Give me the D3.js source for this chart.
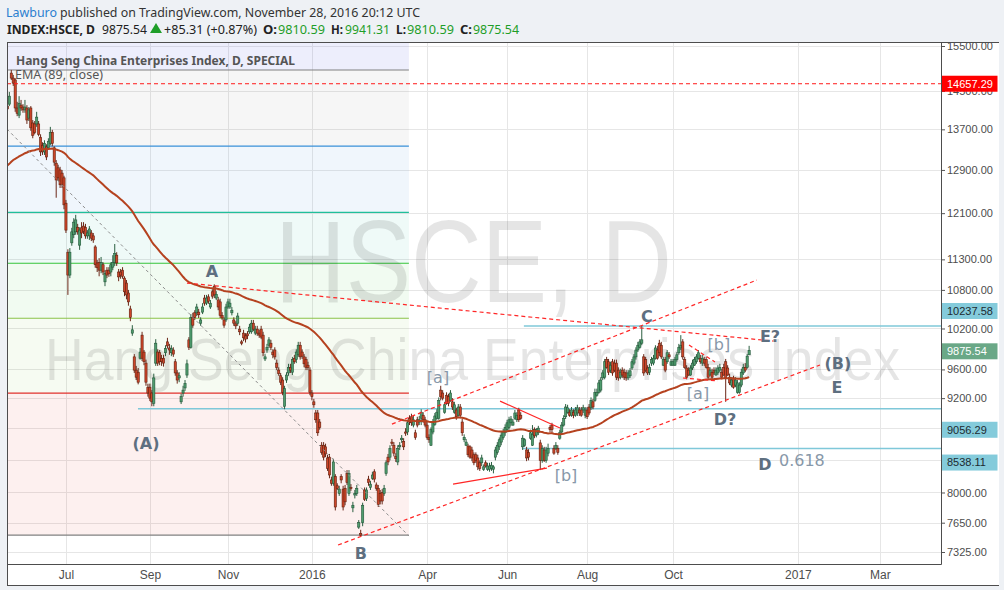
<!DOCTYPE html>
<html><head><meta charset="utf-8">
<script src="https://cdn.jsdelivr.net/npm/d3@7/dist/d3.min.js"></script>
<style>
html,body{margin:0;padding:0;background:#eef1f5;overflow:hidden}
svg{display:block}
</style></head><body>
<svg id="chart" width="1004" height="590"></svg>
<script>
// ---------------- DATA ----------------
const opens=[14180,14220,14890,14780,14740,14140,13990,14200,14160,14100,
14140,13930,14140,13830,13810,13810,13810,13540,13380,13250,
13350,13330,13420,13640,13330,13030,12940,12900,12840,12750,
12280,11420,11040,11580,11720,11770,11850,11540,11840,11870,
11850,11700,11700,11750,11700,11510,11240,11250,11120,11210,
10930,11120,11120,11090,11170,11250,11370,11090,11090,11120,
10990,10910,10750,10500,10130,9780,9590,9560,9760,10100,
9850,9690,9350,9350,9270,9130,9690,9850,9840,9760,
9760,9840,10000,9910,9840,9880,9710,9550,9480,9150,
9270,9340,9520,10030,9920,10370,10440,10440,10450,10280,
10450,10670,10590,10690,10530,10770,10860,10670,10640,10610,
10400,10330,10330,10530,10530,10440,10330,10270,10280,10190,
10000,10130,10090,10120,10150,10150,10280,10130,10190,10130,
10190,10100,9750,9880,9950,9980,9850,9880,9690,9590,
9510,9450,9090,9450,9550,9630,9560,9760,9740,9810,
9950,9850,9780,9740,9660,9590,9270,9150,9000,9000,
8880,8580,8580,8560,8420,8430,8150,8110,8190,8080,
7990,8190,8040,8050,8230,7990,8060,7820,7970,7990,
7600,7530,7650,8030,7930,8160,8060,8170,8250,8090,
8050,7990,8000,7990,8230,8430,8430,8620,8580,8440,
8370,8560,8650,8630,8750,8750,8930,8950,8840,8740,
8910,8880,8930,8970,8910,8840,8680,8580,8750,8850,
8930,8930,9310,9270,9010,9240,9220,9170,9150,9010,
9040,8970,9080,8880,8650,8580,8570,8560,8520,8460,
8460,8420,8360,8360,8280,8360,8280,8280,8290,8280,
8430,8490,8560,8620,8680,8740,8780,8810,8870,8840,
8930,8910,9040,8970,8560,8580,8520,8490,8670,8580,
8780,8710,8740,8610,8390,8520,8390,8480,8810,8840,
8540,8540,8540,8670,8750,8840,8950,9010,9010,8970,
9010,8970,9000,9040,9040,9040,8970,9040,9080,
9070,9150,9170,9240,9280,9310,9480,9490,9740,9710,
9590,9710,9690,9690,9590,9490,9590,9560,9550,
9480,9510,9620,9690,9780,9880,9920,9980,9780,
9740,9620,9560,9690,9690,9760,9880,9980,9950,9660,
9740,9710,9810,9660,9660,9660,9740,9840,9910,10000,
9740,9620,9590,9520,9620,9660,9710,9760,9760,9690,
9740,9740,9630,9520,9560,9590,9520,9550,9590,9560,
9630,9710,9620,9490,9380,9480,9380,9280,9280,9380,
9550,9630,9630,9810.59];
const highs=[14220,14480,14960,14850,14780,14270,14390,14310,14220,14310,
14200,14160,14180,13890,13870,14060,13870,13600,13440,13480,
13400,13520,13750,13690,13360,13090,13000,12960,12900,12790,
12340,11470,11490,11840,12010,12070,11910,11850,11940,11940,
11910,11800,11870,11800,11750,11540,11290,11320,11340,11250,
11120,11170,11170,11250,11370,11560,11420,11140,11140,11170,
11020,10960,10800,10550,10250,9820,9650,9620,9910,10150,
9880,9740,9400,9400,9310,9540,10040,9890,9880,9810,
9810,9950,10060,9970,9950,9920,9750,9590,9560,9260,
9370,9450,9740,10070,10420,10440,10480,10580,10500,10370,
10590,10720,10720,10730,10640,10810,10890,10780,10690,10660,
10450,10370,10580,10660,10660,10530,10370,10310,10440,10240,
10030,10180,10130,10160,10270,10330,10330,10240,10240,10180,
10240,10150,9820,9970,10070,10030,9890,9920,9740,9630,
9550,9490,9370,9560,9680,9680,9780,9810,9890,10000,
10000,9890,9820,9780,9710,9630,9310,9190,9040,9040,
8920,8620,8620,8600,8460,8470,8190,8410,8220,8110,
8080,8220,8080,8090,8270,8270,8100,7890,8030,8090,
7680,7570,7880,8060,8060,8200,8140,8250,8280,8120,
8090,8030,8040,8090,8390,8470,8580,8660,8620,8480,
8580,8620,8710,8670,8800,8910,8970,8990,8960,8780,
8950,8960,9050,9010,8950,8880,8720,8810,8920,9000,
9050,9210,9370,9310,9150,9280,9260,9310,9200,9150,
9070,9120,9120,8920,8720,8660,8600,8580,8560,8490,
8490,8460,8390,8460,8340,8390,8360,8360,8370,8330,
8560,8620,8680,8750,8790,8850,8910,8950,8960,8920,
9040,9010,9070,9010,8710,8670,8560,8530,8780,8840,
8810,8800,8830,8650,8580,8560,8560,8600,8840,8870,
8580,8620,8580,8780,8880,8970,9120,9110,9050,9080,
9050,9080,9110,9080,9080,9110,9080,9080,9120,
9210,9190,9330,9330,9450,9490,9590,9750,9780,9750,
9710,9750,9740,9740,9630,9610,9630,9610,9590,
9590,9620,9750,9820,9920,10000,10040,10237.58,9820,
9780,9660,9680,9780,9810,9950,9940,10030,10000,9780,
9780,9880,9850,9750,9750,9780,9850,9970,10100,10040,
9780,9660,9630,9660,9740,9780,9820,9880,9810,9810,
9780,9780,9680,9630,9610,9630,9630,9660,9680,9610,
9680,9750,9660,9540,9490,9510,9490,9450,9420,9610,
9680,9690,9820,9941.31];
const lows=[14080,14180,14740,14610,14060,13970,13930,14080,14040,14040,
13810,13870,13670,13520,13600,13750,13560,13170,13190,13190,
13090,13290,13380,13360,12980,12380,12690,12560,12560,12170,
11750,10720,10990,11530,11660,11720,11720,11460,11660,11730,
11650,11650,11630,11610,11580,11160,11090,11020,11070,11040,
10860,10990,11010,11020,11120,11190,11190,10940,10980,10980,
10700,10650,10550,10310,10090,9550,9450,9390,9740,9720,
9660,9370,9220,9160,9090,9090,9650,9650,9660,9650,
9640,9790,9900,9810,9790,9780,9510,9400,9420,9120,
9220,9300,9480,9880,9900,10210,10330,10390,10360,10240,
10420,10550,10560,10580,10500,10660,10670,10640,10480,10360,
10330,10210,10300,10500,10500,10400,10240,10190,10240,10100,
9950,10010,9990,10040,10120,10120,10160,10100,10090,10060,
10040,9790,9720,9840,9910,9880,9760,9740,9590,9510,
9380,9240,9050,9410,9510,9550,9520,9680,9690,9780,
9740,9750,9630,9590,9590,9240,9170,9070,8870,8700,
8780,8460,8390,8430,8260,8170,8080,8080,7790,8030,
7960,8110,7790,7850,8090,7960,8020,7770,7930,7960,
7580,7498,7610,7900,7900,8080,8030,8150,8120,8020,
7830,7860,7860,7960,8200,8330,8390,8570,8440,8370,
8330,8520,8610,8520,8700,8710,8840,8830,8810,8650,
8810,8840,8840,8870,8810,8650,8610,8570,8720,8830,
8910,8910,9170,9170,8990,9110,9090,9150,9040,8990,
8910,8950,8930,8700,8620,8570,8430,8410,8380,8330,
8360,8270,8260,8320,8260,8300,8260,8250,8260,8230,
8390,8460,8520,8580,8650,8700,8750,8780,8830,8830,
8910,8880,8880,8910,8520,8560,8380,8390,8650,8570,
8670,8680,8710,8270,8360,8370,8360,8440,8750,8740,
8460,8520,8460,8650,8720,8820,8920,8990,8950,8950,
8930,8950,8960,8960,8950,9000,8930,8920,8970,
9040,9050,9150,9220,9260,9280,9450,9460,9610,9520,
9550,9510,9560,9450,9440,9460,9480,9450,9440,
9450,9480,9590,9660,9740,9850,9900,9950,9510,
9560,9520,9520,9650,9660,9740,9740,9790,9750,9650,
9560,9680,9750,9650,9650,9650,9710,9810,9880,9740,
9610,9460,9510,9510,9590,9650,9680,9740,9680,9650,
9650,9610,9460,9510,9460,9520,9510,9520,9560,9460,
9510,9150,9510,9380,9350,9330,9350,9260,9260,9350,
9520,9560,9610,9810.59];
const closes=[14120,14390,14780,14670,14140,14030,14240,14140,14100,14160,
13890,14100,13730,13580,13640,13950,13600,13250,13250,13420,
13150,13460,13640,13420,13050,12710,12750,12620,12620,12250,
11800,11040,11420,11770,11940,11980,11770,11800,11750,11780,
11700,11750,11820,11660,11630,11210,11160,11120,11250,11090,
11070,11040,11060,11210,11250,11400,11240,11010,11040,11020,
10770,10720,10610,10370,10180,9590,9490,9420,9850,9760,
9710,9420,9270,9200,9150,9480,9980,9690,9710,9710,
9690,9900,9940,9880,9900,9820,9550,9450,9510,9220,
9310,9400,9680,9920,10370,10250,10370,10530,10410,10330,
10530,10590,10670,10620,10590,10700,10720,10730,10530,10400,
10360,10250,10530,10610,10590,10480,10280,10240,10390,10150,
9980,10060,10040,10090,10220,10280,10190,10190,10130,10100,
10070,9840,9780,9920,10030,9920,9810,9780,9630,9540,
9420,9280,9330,9520,9630,9590,9740,9710,9850,9950,
9780,9790,9680,9630,9630,9280,9220,9110,8910,8740,
8810,8490,8430,8470,8290,8210,8110,8370,7830,8050,
8040,8150,7830,7890,8120,8230,8050,7850,7990,8050,
7650,7510,7850,7920,8030,8120,8100,8210,8160,8050,
7860,7900,7900,8050,8360,8370,8540,8610,8480,8410,
8540,8580,8670,8560,8740,8870,8880,8870,8910,8680,
8840,8910,9010,8910,8840,8680,8650,8780,8880,8960,
9010,9170,9220,9200,9110,9130,9130,9270,9080,9110,
8950,9080,8970,8740,8680,8620,8460,8430,8420,8360,
8390,8310,8290,8420,8310,8320,8320,8320,8330,8310,
8520,8580,8650,8710,8750,8810,8870,8910,8920,8880,
9000,8970,8910,8930,8670,8650,8420,8430,8740,8720,
8700,8780,8800,8390,8540,8390,8520,8540,8780,8780,
8480,8580,8490,8740,8840,8930,9080,9070,8970,9040,
8970,9040,9070,9000,8970,9070,9040,8950,9000,
9170,9080,9280,9280,9410,9450,9550,9710,9630,9560,
9660,9550,9590,9490,9480,9560,9520,9490,9480,
9550,9580,9710,9780,9880,9950,10000,10030,9550,
9590,9550,9630,9740,9760,9910,9760,9840,9780,9740,
9590,9840,9780,9710,9710,9740,9810,9920,9950,9780,
9630,9490,9520,9620,9690,9740,9780,9840,9710,9760,
9690,9630,9490,9590,9490,9550,9590,9620,9630,9490,
9520,9480,9520,9410,9450,9350,9450,9410,9380,9560,
9630,9590,9790.23,9875.54];

const emaSeed=12960, emaLength=89;
const lastBarDate="2016-11-28";
const holidays=["2015-05-01","2015-05-25","2015-07-01","2015-09-03","2015-09-28","2015-10-01","2015-10-21","2015-12-25",
"2016-01-01","2016-02-08","2016-02-09","2016-02-10","2016-03-25","2016-03-28","2016-04-04","2016-05-02","2016-06-09",
"2016-07-01","2016-09-16","2016-10-10"];

const priceTicks=[15500,14500,13700,12900,12100,11300,10800,10200,9600,9200,8800,8400,8000,7650,7325];
const tickDates=["2015-07-01","2015-09-01","2015-11-01","2016-01-01","2016-04-01","2016-06-01","2016-08-01","2016-10-01","2017-01-01","2017-03-01"];
const tickLabels=["Jul","Sep","Nov","2016","Apr","Jun","Aug","Oct","2017","Mar"];

const fibLow=7511, fibHigh=14959, fibEndBar=205.7;
const fibLevels=[0,0.236,0.382,0.5,0.618,0.786,1,1.618];
const fibColors=["#808080","#e0302c","#8bc34a","#35c43a","#20bf9a","#3a90d8","#808080","#5a66e0"];
const fibAlpha=[0,0.075,0.075,0.07,0.07,0.08,0.07,0.11];

const hLinePrice=14657.29;
const rays=[{price:10237.58,fromBar:264.6},{price:9056.29,fromBar:66.9},{price:8538.11,fromBar:263.6}];
const trendLines=[
 {b1:-0.2,p1:13705,b2:205.7,p2:7500,kind:"grey"},
 {b1:92.0,p1:10910,b2:392.2,p2:10012,kind:"dash"},
 {b1:197.0,p1:8853,b2:384.0,p2:10959,kind:"dash"},
 {b1:169.4,p1:7401,b2:416.3,p2:9663,kind:"dash"},
 {b1:228.3,p1:8100,b2:276.4,p2:8295,kind:"solid"},
 {b1:252.4,p1:9160,b2:283.1,p2:8801,kind:"solid"},
 {b1:349.2,p1:9953,b2:362.5,p2:9706,kind:"dash"},
 {b1:346.1,p1:9479,b2:364.0,p2:9437,kind:"dash"}
];
const waveLabels=[
 {t:"A",bar:104.8,price:11007,bold:true},
 {t:"(A)",bar:71.0,price:8532,bold:true},
 {t:"B",bar:181.1,price:7249,bold:true},
 {t:"C",bar:327.6,price:10297,bold:true},
 {t:"[a]",bar:220.6,price:9409,bold:false},
 {t:"[b]",bar:286.2,price:8137,bold:false},
 {t:"[b]",bar:364.5,price:9880,bold:false},
 {t:"[a]",bar:353.8,price:9188,bold:false},
 {t:"D?",bar:367.6,price:8840,bold:true},
 {t:"E?",bar:390.7,price:9997,bold:true},
 {t:"(B)",bar:425.5,price:9606,bold:true},
 {t:"E",bar:425.0,price:9271,bold:true},
 {t:"D",bar:388.1,price:8270,bold:true}
];
const fibTag={t:"0.618",bar:395.3,price:8320};
const axisTags=[
 {price:14657.29,dy:0,bg:"#ff0000",fg:"#ffffff"},
 {price:10237.58,dy:-15,bg:"#84cbdb",fg:"#1d2a30"},
 {price:9875.54,dy:1,bg:"#6aa887",fg:"#ffffff"},
 {price:9056.29,dy:21,bg:"#84cbdb",fg:"#1d2a30"},
 {price:8538.11,dy:14,bg:"#84cbdb",fg:"#1d2a30"}
];

// ---------------- LAYOUT ----------------
const P={l:7,t:42.5,r:941,b:564};
const svg=d3.select("#chart");
const x=d3.scaleLinear().domain([-0.2,478.3]).range([P.l,P.r]);
const y=d3.scaleLog().domain([7325,15500]).range([552,46]);

// dates (trading days backwards from last bar, weekdays forward)
const hs=new Set(holidays);
const ymd=d=>d.toISOString().slice(0,10);
const N=closes.length;
const barDates=[];
let dt=new Date(lastBarDate+"T00:00:00Z");
while(barDates.length<N){const wd=dt.getUTCDay(); if(wd!==0&&wd!==6&&!hs.has(ymd(dt))) barDates.unshift(new Date(dt)); dt=new Date(dt.getTime()-864e5);}
const futureDates=[];
dt=new Date(new Date(lastBarDate+"T00:00:00Z").getTime()+864e5);
while(futureDates.length<140){const wd=dt.getUTCDay(); if(wd!==0&&wd!==6) futureDates.push(new Date(dt)); dt=new Date(dt.getTime()+864e5);}
const allDates=barDates.concat(futureDates);
const idxOf=s=>{const t=new Date(s+"T00:00:00Z").getTime();return allDates.findIndex(d=>d.getTime()>=t);};
const tickIdx=tickDates.map(idxOf);

// frame background
svg.append("rect").attr("x",P.l).attr("y",P.t).attr("width",999-P.l).attr("height",585-P.t).attr("fill","#ffffff");

const defs=svg.append("defs");
defs.append("clipPath").attr("id","pane").append("rect").attr("x",P.l).attr("y",P.t).attr("width",P.r-P.l).attr("height",P.b-P.t);
defs.append("clipPath").attr("id","axc").append("rect").attr("x",P.r).attr("y",P.t).attr("width",60).attr("height",P.b-P.t);

const g=svg.append("g").attr("clip-path","url(#pane)");

// grid
g.append("g").selectAll("line").data(tickIdx).join("line")
 .attr("x1",d=>Math.round(x(d))+0.5).attr("x2",d=>Math.round(x(d))+0.5).attr("y1",P.t).attr("y2",P.b)
 .attr("stroke","#e6e6e6").attr("stroke-width",1);
g.append("g").selectAll("line").data(priceTicks).join("line")
 .attr("x1",P.l).attr("x2",P.r).attr("y1",d=>Math.round(y(d))+0.5).attr("y2",d=>Math.round(y(d))+0.5)
 .attr("stroke","#e6e6e6").attr("stroke-width",1);

// fib retracement
const fibPrices=fibLevels.map(l=>fibLow+l*(fibHigh-fibLow));
const fx2=x(fibEndBar);
const fg=g.append("g");
for(let i=1;i<fibPrices.length;i++){
  const yt=y(fibPrices[i]), yb=y(fibPrices[i-1]);
  fg.append("rect").attr("x",P.l).attr("width",fx2-P.l).attr("y",yt).attr("height",yb-yt)
    .attr("fill",fibColors[i]).attr("fill-opacity",fibAlpha[i]);
}
fibPrices.forEach((p,i)=>{
  fg.append("line").attr("x1",P.l).attr("x2",fx2).attr("y1",y(p)).attr("y2",y(p))
    .attr("stroke",fibColors[i]).attr("stroke-width",1.2);
});

// watermark
const wm=g.append("g").attr("font-family","'Liberation Sans', Arial, sans-serif").attr("fill","#000").attr("fill-opacity",0.1);
wm.append("text").attr("x",275).attr("y",302).attr("font-size",116).attr("textLength",397).attr("lengthAdjust","spacingAndGlyphs").text("HSCE, D");
wm.append("text").attr("x",45).attr("y",380).attr("font-size",60).attr("textLength",855).attr("lengthAdjust","spacingAndGlyphs").text("Hang Seng China Enterprises Index");

// horizontal rays
g.append("g").selectAll("line").data(rays).join("line")
 .attr("x1",d=>x(d.fromBar)).attr("x2",P.r).attr("y1",d=>y(d.price)).attr("y2",d=>y(d.price))
 .attr("stroke","#7fc8d9").attr("stroke-width",1.5);

// candles
const bars=closes.map((c,i)=>({i,o:opens[i],h:highs[i],l:lows[i],c}));
const up=d=>d.c>=d.o;
const cg=g.append("g");
cg.selectAll("line").data(bars).join("line")
 .attr("x1",d=>x(d.i)).attr("x2",d=>x(d.i)).attr("y1",d=>y(d.h)).attr("y2",d=>y(d.l))
 .attr("stroke",d=>up(d)?"#2b5f40":"#6b2718").attr("stroke-width",1);
cg.selectAll("rect").data(bars).join("rect")
 .attr("x",d=>x(d.i)-1.1).attr("width",2.2)
 .attr("y",d=>y(Math.max(d.o,d.c))).attr("height",d=>Math.max(1.2,Math.abs(y(d.o)-y(d.c))))
 .attr("fill",d=>up(d)?"#4f9c6d":"#cc4529").attr("stroke",d=>up(d)?"#23573a":"#62210f").attr("stroke-width",0.6);

// EMA
const alpha=2/(emaLength+1);
let e=emaSeed;
const ema=closes.map(c=>(e=e+alpha*(c-e)));
g.append("path").datum(ema).attr("fill","none").attr("stroke","#b5421f").attr("stroke-width",2)
 .attr("d",d3.line().x((d,i)=>x(i)).y(d=>y(d)));

// red horizontal line
g.append("line").attr("x1",P.l).attr("x2",P.r).attr("y1",y(hLinePrice)).attr("y2",y(hLinePrice))
 .attr("stroke","#ff1a1a").attr("stroke-width",1).attr("stroke-dasharray","4,3");

// trend lines
g.append("g").selectAll("line").data(trendLines).join("line")
 .attr("x1",d=>x(d.b1)).attr("y1",d=>y(d.p1)).attr("x2",d=>x(d.b2)).attr("y2",d=>y(d.p2))
 .attr("stroke",d=>d.kind==="grey"?"#8c8c8c":"#ff2626")
 .attr("stroke-width",d=>d.kind==="grey"?1:1.2)
 .attr("stroke-dasharray",d=>d.kind==="solid"?null:(d.kind==="grey"?"3,3":"4,3"));

// wave labels
const lg=g.append("g").attr("font-family","'DejaVu Sans', Verdana, sans-serif").attr("font-size",16);
lg.selectAll("text").data(waveLabels).join("text")
 .attr("x",d=>x(d.bar)).attr("y",d=>y(d.price)).attr("text-anchor","middle")
 .attr("font-weight",d=>d.bold?"bold":"normal").attr("fill",d=>d.bold?"#5e6f80":"#8898a9").text(d=>d.t);
lg.append("text").attr("x",x(fibTag.bar)).attr("y",y(fibTag.price)).attr("fill","#8898a9").text(fibTag.t);

// legend
const leg=svg.append("g").attr("font-family","'Noto Sans','Open Sans',sans-serif").attr("fill","#555");
leg.append("text").attr("x",16).attr("y",65).attr("font-size",12).attr("font-weight","bold").attr("textLength",279).attr("lengthAdjust","spacingAndGlyphs").text("Hang Seng China Enterprises Index, D, SPECIAL");
leg.append("text").attr("x",15).attr("y",79).attr("font-size",12).attr("textLength",88).attr("lengthAdjust","spacingAndGlyphs").text("EMA (89, close)");

// price axis
const ax=svg.append("g").attr("clip-path","url(#axc)");
const yg=ax.append("g").attr("transform",`translate(${P.r},0)`)
 .call(d3.axisRight(y).tickValues(priceTicks).tickFormat(d3.format(".2f")).tickSize(4).tickPadding(2));
yg.select(".domain").remove();
yg.selectAll("line").attr("stroke","#555");
yg.selectAll("text").attr("font-family","'Liberation Sans', Arial, sans-serif").attr("font-size",11).attr("fill","#4d4d4d");
const tg=ax.append("g");
axisTags.forEach(t=>{
  const yy=y(t.price)+t.dy;
  tg.append("rect").attr("x",P.r+0.5).attr("y",yy-8).attr("width",56).attr("height",16).attr("fill",t.bg);
  tg.append("text").attr("x",P.r+6).attr("y",yy).attr("dy","0.35em").attr("font-family","'Liberation Sans', Arial, sans-serif")
    .attr("font-size",11).attr("fill",t.fg).text(d3.format(".2f")(t.price));
});

// time axis
const xg=svg.append("g").attr("transform",`translate(0,${P.b})`)
 .call(d3.axisBottom(x).tickValues(tickIdx).tickFormat((d,i)=>tickLabels[i]).tickSize(0).tickPadding(6));
xg.select(".domain").remove();
xg.selectAll("text").attr("font-family","'Liberation Sans Narrow','Liberation Sans',Arial,sans-serif").attr("font-size",12).attr("fill","#4d4d4d");

// frame
const fr=svg.append("g").attr("stroke","#4d4d4d").attr("stroke-width",1).attr("fill","none");
fr.append("line").attr("x1",P.l+0.5).attr("x2",P.l+0.5).attr("y1",P.t).attr("y2",585.5);
fr.append("line").attr("x1",P.l).attr("x2",999).attr("y1",P.t).attr("y2",P.t);
fr.append("line").attr("x1",P.l).attr("x2",999).attr("y1",585.5).attr("y2",585.5);
fr.append("line").attr("x1",P.r+0.5).attr("x2",P.r+0.5).attr("y1",P.t).attr("y2",P.b+0.5);
fr.append("line").attr("x1",P.l).attr("x2",P.r+0.5).attr("y1",P.b+0.5).attr("y2",P.b+0.5);

// header
const last=N-1;
const chg=closes[last]-closes[last-1];
const pct=chg/closes[last-1]*100;
const f2=d3.format(".2f");
const hd=svg.append("g").attr("font-family","'Noto Sans','Open Sans',sans-serif").attr("font-size",12);
hd.append("text").attr("x",6).attr("y",17).attr("fill","#2b7fd0").attr("textLength",51).attr("lengthAdjust","spacingAndGlyphs").text("Lawburo");
hd.append("text").attr("x",60).attr("y",17).attr("fill","#333").attr("textLength",360).attr("lengthAdjust","spacingAndGlyphs").text("published on TradingView.com, November 28, 2016 20:12 UTC");
const seg=(tx,xx,w,col,bold)=>hd.append("text").attr("x",xx).attr("y",34).attr("fill",col).attr("font-weight",bold?"bold":"normal").attr("textLength",w).attr("lengthAdjust","spacingAndGlyphs").text(tx);
seg("INDEX:HSCE, D",7,88,"#222",true);
seg(f2(closes[last]),102,45,"#222",false);
hd.append("path").attr("d","M150,33 L162,33 L156,23 Z").attr("fill","#1e9e28");
seg(`+${f2(chg)} (+${f2(pct)}%)`,164,93,"#222",false);
seg("O:",263,14,"#222",true); seg(f2(opens[last]),278,47,"#1e9e28",false);
seg("H:",331,12,"#222",true); seg(f2(highs[last]),345,45,"#1e9e28",false);
seg("L:",396,10,"#222",true); seg(f2(lows[last]),407,47,"#1e9e28",false);
seg("C:",460,12,"#222",true); seg(f2(closes[last]),473,46,"#1e9e28",false);
</script>
</body></html>
